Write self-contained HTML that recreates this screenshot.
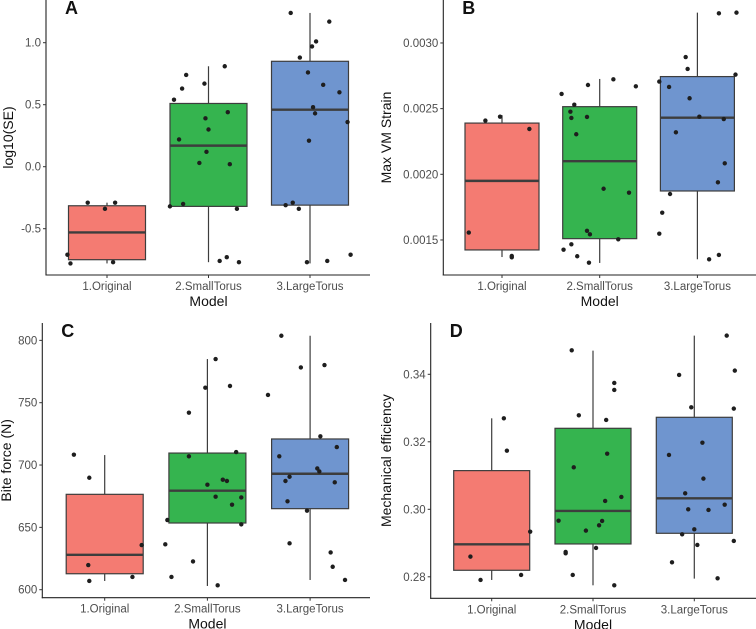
<!DOCTYPE html>
<html><head><meta charset="utf-8"><style>
html,body{margin:0;padding:0;background:#fff;}
svg{display:block;font-family:"Liberation Sans",Arial,sans-serif;}
</style></head><body>
<svg id="chart" width="756" height="629" viewBox="0 0 756 629"></svg>
<script>
const categories = ["1.Original","2.SmallTorus","3.LargeTorus"];
const colors = ["#F47B72","#35B44F","#6F95CF"];

// Panel A: log10(SE)
const A_ticks = [-0.5, 0.0, 0.5, 1.0];
const A_tickLabels = ["-0.5","0.0","0.5","1.0"];
const A_q1 = [-0.75, -0.32, -0.31];
const A_med = [-0.53, 0.17, 0.46];
const A_q3 = [-0.315, 0.51, 0.85];
const A_lo = [-0.78, -0.77, -0.78];
const A_hi = [-0.29, 0.81, 1.24];
const A_ptCat = [0,0,0,0,0,0, 1,1,1,1,1,1,1,1,1,1,1,1,1,1,1,1,1,1, 2,2,2,2,2,2,2,2,2,2,2,2,2,2,2,2,2,2];
const A_ptJit = [-0.19,0.08,-0.02,-0.39,-0.36,0.06,
 -0.22,-0.26,-0.04,0.16,-0.34,-0.03,0.19,0.00,-0.29,-0.02,-0.09,0.21,-0.38,-0.25,0.28,0.11,0.18,0.30,
 -0.19,0.19,0.06,0.02,-0.10,-0.02,0.13,0.29,0.03,0.05,0.37,-0.01,-0.24,-0.17,-0.11,-0.03,0.17,0.40];
const A_ptVal = [-0.29,-0.29,-0.34,-0.71,-0.78,-0.77,
 0.74,0.63,0.67,0.81,0.54,0.39,0.44,0.30,0.22,0.12,0.03,0.02,-0.32,-0.30,-0.34,-0.76,-0.73,-0.77,
 1.24,1.17,1.01,0.97,0.88,0.76,0.66,0.60,0.48,0.43,0.36,0.21,-0.31,-0.29,-0.34,-0.77,-0.76,-0.71];

// Panel B: Max VM Strain
const B_ticks = [0.0015,0.0020,0.0025,0.0030];
const B_tickLabels = ["0.0015","0.0020","0.0025","0.0030"];
const B_q1 = [0.001424,0.00151,0.001873];
const B_med = [0.00195,0.0021,0.002431];
const B_q3 = [0.00239,0.002515,0.002744];
const B_lo = [0.00137,0.001325,0.001353];
const B_hi = [0.00245,0.002726,0.003231];
const B_ptCat = [0,0,0,0,0,0, 1,1,1,1,1,1,1,1,1,1,1,1,1,1,1,1,1,1, 2,2,2,2,2,2,2,2,2,2,2,2,2,2,2,2,2,2];
const B_ptJit = [-0.17,-0.02,0.28,-0.34,0.10,0.10,
 -0.39,-0.12,0.14,0.37,-0.26,-0.30,-0.29,-0.13,-0.24,0.04,0.30,-0.13,-0.10,0.19,-0.37,-0.29,-0.23,-0.11,
 0.22,0.40,-0.12,-0.10,0.39,-0.39,-0.29,-0.08,0.02,0.27,-0.22,0.28,0.21,-0.28,-0.36,-0.39,0.12,0.22];
const B_ptVal = [0.002409,0.002439,0.002345,0.001556,0.001378,0.001368,
 0.002612,0.00268,0.002723,0.00267,0.00253,0.002477,0.002429,0.002437,0.002305,0.00189,0.00186,0.00157,0.001543,0.001505,0.001426,0.001467,0.001376,0.001327,
 0.003226,0.003231,0.002893,0.002802,0.002759,0.002706,0.002665,0.002579,0.002439,0.002421,0.00232,0.002084,0.001939,0.00185,0.001708,0.001548,0.001353,0.001386];

// Panel C: Bite force
const C_ticks = [600,650,700,750,800];
const C_tickLabels = ["600","650","700","750","800"];
const C_q1 = [612.8,653.5,665];
const C_med = [628,679.4,693];
const C_q3 = [676.5,709.6,720.9];
const C_lo = [607,603,607.8];
const C_hi = [708,785,803.7];
const C_ptCat = [0,0,0,0,0,0, 1,1,1,1,1,1,1,1,1,1,1,1,1,1,1,1,1,1, 2,2,2,2,2,2,2,2,2,2,2,2,2,2,2,2,2,2];
const C_ptJit = [-0.30,-0.15,0.36,-0.16,0.27,-0.15,
 0.08,-0.02,0.22,-0.18,-0.18,0.28,0.00,0.15,0.19,0.08,0.33,0.24,-0.39,0.33,-0.41,-0.14,-0.35,0.10,
 -0.28,-0.09,0.14,-0.41,0.10,0.26,-0.30,0.07,0.09,-0.20,-0.24,0.24,-0.22,-0.03,-0.20,0.20,0.22,0.34];
const C_ptVal = [708.3,689.8,635.8,619.8,610.2,607,
 785,762,763.4,742,707,710.4,684.2,688.2,687.2,674.6,674,668.2,655.9,652.4,636.4,622.7,610.2,603.5,
 803.7,778.3,780.2,756.2,723,714.4,707,697.3,694.9,690.6,687.2,686.1,670.9,663.4,637.2,629.9,618.4,607.8];

// Panel D: Mechanical efficiency
const D_ticks = [0.28,0.30,0.32,0.34];
const D_tickLabels = ["0.28","0.30","0.32","0.34"];
const D_q1 = [0.28193,0.28973,0.29289];
const D_med = [0.28963,0.29951,0.30326];
const D_q3 = [0.31146,0.324,0.32726];
const D_lo = [0.27906,0.27748,0.27946];
const D_hi = [0.32696,0.34701,0.35146];
const D_ptCat = [0,0,0,0,0,0, 1,1,1,1,1,1,1,1,1,1,1,1,1,1,1,1,1,1, 2,2,2,2,2,2,2,2,2,2,2,2,2,2,2,2,2,2];
const D_ptJit = [0.12,0.15,0.38,-0.21,0.29,-0.11,
 -0.21,0.21,0.21,-0.14,0.13,0.14,-0.19,0.28,0.12,-0.34,0.09,0.06,-0.07,-0.27,-0.27,0.03,-0.20,0.21,
 0.32,-0.15,0.40,-0.03,0.39,0.08,-0.25,0.09,-0.09,-0.06,0.14,0.30,0.00,-0.12,0.03,-0.22,0.39,0.23];
const D_ptVal = [0.32696,0.31738,0.29338,0.28598,0.28054,0.27906,
 0.34711,0.33743,0.33536,0.32785,0.32647,0.31649,0.31244,0.30365,0.30247,0.29664,0.29654,0.29526,0.29368,0.28736,0.28696,0.28854,0.28054,0.27748,
 0.35146,0.33980,0.34109,0.33022,0.32983,0.31975,0.31610,0.30909,0.30474,0.30000,0.29980,0.30138,0.29407,0.29259,0.28943,0.28430,0.29062,0.27956];

const NS = "http://www.w3.org/2000/svg";
const svg = document.getElementById("chart");
function mk(tag, attrs, parent){
  const e = document.createElementNS(NS, tag);
  for (const k in attrs) e.setAttribute(k, attrs[k]);
  (parent||svg).appendChild(e);
  return e;
}

function panel(p){
  const g = mk("g", {});
  
  
  // y scale: value v0 at pixel y0, pxPerUnit
  const y = v => p.y0 - (v - p.v0) * p.ppu;
  const x = c => p.c1 + c * p.sp;
  // boxes
  for (let i = 0; i < 3; i++){
    const bg = mk("g", {}, g);
    
    
    const cx = x(i), hw = p.bw/2;
    mk("line", {x1:cx, x2:cx, y1:y(p.hi[i]), y2:y(p.q3[i]), stroke:"#3d3d3d", "stroke-width":1.2}, bg);
    mk("line", {x1:cx, x2:cx, y1:y(p.q1[i]), y2:y(p.lo[i]), stroke:"#3d3d3d", "stroke-width":1.2}, bg);
    mk("rect", {x:cx-hw, y:y(p.q3[i]), width:p.bw, height:y(p.q1[i])-y(p.q3[i]), fill:colors[i], stroke:"#3d3d3d", "stroke-width":1.2}, bg);
    mk("line", {x1:cx-hw, x2:cx+hw, y1:y(p.med[i]), y2:y(p.med[i]), stroke:"#3d3d3d", "stroke-width":2.4}, bg);
  }
  // points
  for (let j = 0; j < p.vals.length; j++){
    const c = mk("circle", {cx:x(p.cats[j] + p.jit[j]), cy:y(p.vals[j]), r:2.2, fill:"#1e1e1e"}, g);
    
    
  }
  // axes
  const ax = mk("line", {x1:p.ax, x2:p.ax, y1:p.top, y2:p.xy+0.5, stroke:"#222", "stroke-width":1.1}, g);
  
  
  const xl = mk("line", {x1:p.ax-0.5, x2:p.right, y1:p.xy, y2:p.xy, stroke:"#222", "stroke-width":1.1}, g);
  
  
  for (let k = 0; k < p.ticks.length; k++){
    const ty = y(p.ticks[k]);
    mk("line", {x1:p.ax-3, x2:p.ax, y1:ty, y2:ty, stroke:"#333", "stroke-width":1}, g);
    const t = mk("text", {x:p.ax-5, y:ty+4, "text-anchor":"end", "font-size":11.5, fill:"#4d4d4d"}, g);
    t.textContent = p.labels[k];
    
    
  }
  for (let i = 0; i < 3; i++){
    mk("line", {x1:x(i), x2:x(i), y1:p.xy, y2:p.xy+3, stroke:"#333", "stroke-width":1}, g);
    const t = mk("text", {x:x(i), y:p.xy+15, "text-anchor":"middle", "font-size":11.5, fill:"#4d4d4d"}, g);
    t.textContent = categories[i];
    
    
  }
  const xt = mk("text", {x:x(1), y:p.xy+31, "text-anchor":"middle", "font-size":14, fill:"#111"}, g);
  xt.textContent = "Model";
  
  
  const yt = mk("text", {x:0, y:0, "text-anchor":"middle", "font-size":14, fill:"#111",
    transform:"translate(" + p.ytx + "," + ((p.top + p.xy)/2) + ") rotate(-90)"}, g);
  yt.textContent = p.ytitle;
  
  
  const lt = mk("text", {x:p.ax+19, y:p.top+14, "font-size":18, "font-weight":"bold", fill:"#111"}, g);
  lt.textContent = p.letter;
  
  
}

panel({letter:"A", ytitle:"log10(SE)", ticks:A_ticks, labels:A_tickLabels, q1:A_q1, med:A_med, q3:A_q3, lo:A_lo, hi:A_hi,
  cats:A_ptCat, jit:A_ptJit, vals:A_ptVal, v0:0, y0:166.7, ppu:124, c1:107, sp:101.5, bw:77,
  ax:46, xy:275, top:0, right:370, ytx:13});
panel({letter:"B", ytitle:"Max VM Strain", ticks:B_ticks, labels:B_tickLabels, q1:B_q1, med:B_med, q3:B_q3, lo:B_lo, hi:B_hi,
  cats:B_ptCat, jit:B_ptJit, vals:B_ptVal, v0:0.002, y0:174.3, ppu:131333, c1:502, sp:97.7, bw:74,
  ax:443.3, xy:275, top:0, right:756, ytx:391});
panel({letter:"C", ytitle:"Bite force (N)", ticks:C_ticks, labels:C_tickLabels, q1:C_q1, med:C_med, q3:C_q3, lo:C_lo, hi:C_hi,
  cats:C_ptCat, jit:C_ptJit, vals:C_ptVal, v0:600, y0:589.7, ppu:1.2467, c1:104.7, sp:102.7, bw:77,
  ax:42.3, xy:597.7, top:323, right:370, ytx:11});
panel({letter:"D", ytitle:"Mechanical efficiency", ticks:D_ticks, labels:D_tickLabels, q1:D_q1, med:D_med, q3:D_q3, lo:D_lo, hi:D_hi,
  cats:D_ptCat, jit:D_ptJit, vals:D_ptVal, v0:0.30, y0:509.3, ppu:3375, c1:491.7, sp:101.3, bw:76,
  ax:430.7, xy:598.3, top:323, right:756, ytx:391});
</script>
</body></html>
